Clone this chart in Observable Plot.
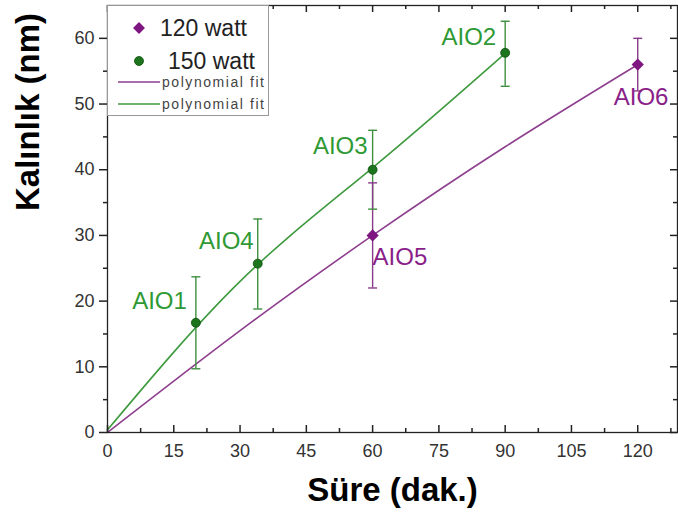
<!DOCTYPE html>
<html><head><meta charset="utf-8">
<script src="https://cdn.jsdelivr.net/npm/d3@7"></script>
<script src="https://cdn.jsdelivr.net/npm/@observablehq/plot@0.6"></script>
<style>
body{margin:0;background:#fff;font-family:"Liberation Sans",Arial,sans-serif}
#wrap{position:relative;width:678px;height:528px;overflow:hidden}
#legend{position:absolute;left:107px;top:5px}
</style></head><body><div id="wrap"></div>
<script>
// ---- data ----
const samples   = ["AIO1","AIO4","AIO3","AIO2","AIO5","AIO6"];
const power     = ["150 watt","150 watt","150 watt","150 watt","120 watt","120 watt"];
const time      = [20, 34, 60, 90, 60, 120];
const thickness = [16.7, 25.7, 40, 57.8, 30, 56];
const errLow    = [9.7, 18.8, 34, 52.7, 22, 52];
const errHigh   = [23.7, 32.5, 46, 62.6, 38, 60];

const fit150X = [0, 30, 60, 90];
const fit150Y = [0.4, 23, 40.3, 57.7];
const fit120X = [0, 30, 60, 90, 120];
const fit120Y = [0, 15.5, 30, 43.5, 56];

const xTicks = [0, 15, 30, 45, 60, 75, 90, 105, 120];
const xMinor = [7.5, 22.5, 37.5, 52.5, 67.5, 82.5, 97.5, 112.5, 127.5];
const yTicks = [0, 10, 20, 30, 40, 50, 60];
const yMinor = [5, 15, 25, 35, 45, 55];
const legendLabels = ["120 watt", "150 watt", "polynomial fit", "polynomial fit"];
const xTitle = "Süre (dak.)";
const yTitle = "Kalınlık (nm)";

// ---- styles ----
const C = {
  "120 watt": {marker: "#7e1580", line: "#8e3f8e", bar: "#8a3a8a", label: "#8a1f8a"},
  "150 watt": {marker: "#1c741c", line: "#3f9a3f", bar: "#3f8f3f", label: "#2f9a35"}
};
const labelOffset = {
  AIO1: {dx: -9, dy: -21, anchor: "end"},
  AIO4: {dx: -4, dy: -22, anchor: "end"},
  AIO3: {dx: -5, dy: -23, anchor: "end"},
  AIO2: {dx: -9, dy: -15, anchor: "end"},
  AIO5: {dx: 0, dy: 22, anchor: "start"},
  AIO6: {dx: -24, dy: 33, anchor: "start"}
};

const pts = samples.map((s, i) => ({s, p: power[i], x: time[i], y: thickness[i], lo: errLow[i], hi: errHigh[i]}));
const f150 = fit150X.map((x, i) => ({x, y: fit150Y[i]}));
const f120 = fit120X.map((x, i) => ({x, y: fit120Y[i]}));

const cap = {draw(ctx) { ctx.moveTo(-4.5, 0); ctx.lineTo(4.5, 0); }};

const frameH = 528 - 5 - 96;
const frameW = 678 - 107 - 1;

const marks = [
  Plot.line(f120, {x: "x", y: "y", stroke: C["120 watt"].line, strokeWidth: 1.6, curve: "natural"}),
  Plot.line(f150, {x: "x", y: "y", stroke: C["150 watt"].line, strokeWidth: 1.6, curve: "natural"}),
  Plot.ruleX(pts, {x: "x", y1: "lo", y2: "hi", stroke: d => C[d.p].bar, strokeWidth: 1.4}),
  Plot.dot(pts, {x: "x", y: "lo", symbol: cap, r: 4, stroke: d => C[d.p].bar, fill: "none", strokeWidth: 1.4}),
  Plot.dot(pts, {x: "x", y: "hi", symbol: cap, r: 4, stroke: d => C[d.p].bar, fill: "none", strokeWidth: 1.4}),
  Plot.dot(pts.filter(d => d.p === "150 watt"), {x: "x", y: "y", r: 4.5, fill: C["150 watt"].marker, stroke: "#0e4f0e", strokeWidth: 0.8}),
  Plot.dot(pts.filter(d => d.p === "120 watt"), {x: "x", y: "y", symbol: "diamond2", r: 5.5, fill: C["120 watt"].marker}),
  ...samples.map(s => {
    const o = labelOffset[s];
    return Plot.text(pts.filter(d => d.s === s), {x: "x", y: "y", text: "s", dx: o.dx, dy: o.dy, textAnchor: o.anchor,
      fill: d => C[d.p].label, fontSize: 24});
  }),
  // frame and ticks
  Plot.frame({stroke: "#222", strokeWidth: 1.3}),
  Plot.tickX(xTicks, {x: d => d, insetTop: frameH - 7, stroke: "#222", strokeWidth: 1.5}),
  Plot.tickX(xMinor, {x: d => d, insetTop: frameH - 4, stroke: "#222", strokeWidth: 1.5}),
  Plot.tickX(xTicks, {x: d => d, insetBottom: frameH - 7, stroke: "#222", strokeWidth: 1.5}),
  Plot.tickX(xMinor, {x: d => d, insetBottom: frameH - 4, stroke: "#222", strokeWidth: 1.5}),
  Plot.tickY(yTicks, {y: d => d, insetLeft: frameW - 7, stroke: "#222", strokeWidth: 1.5}),
  Plot.tickY(yMinor, {y: d => d, insetLeft: frameW - 4, stroke: "#222", strokeWidth: 1.5}),
  Plot.axisY(yTicks, {tickSize: 8, tickPadding: 5, fontSize: 18, color: "#333", stroke: "#222", strokeWidth: 1.5, label: null}),
  Plot.axisY(yMinor, {tickSize: 4, fill: "none", stroke: "#222", strokeWidth: 1.5, label: null}),
  Plot.axisX(xTicks, {tickSize: 0, tickPadding: 12, fontSize: 18, color: "#333", label: null}),
  Plot.text([yTitle], {frameAnchor: "left", rotate: -90, dx: -79, dy: -8, fontSize: 33, fontWeight: "bold", fill: "#000"}),
  Plot.text([xTitle], {frameAnchor: "bottom", dy: 68, fontSize: 33, fontWeight: "bold", fill: "#000"})
];

const chart = Plot.plot({
  width: 678, height: 528,
  marginLeft: 107, marginRight: 1, marginTop: 5, marginBottom: 96,
  x: {domain: [0, 129], axis: null},
  y: {domain: [0, 65], axis: null},
  style: {fontFamily: "'Liberation Sans', Arial, sans-serif", background: "white", overflow: "visible"},
  marks
});
const wrap = document.getElementById("wrap");
wrap.appendChild(chart);

// legend
const lg = d3.select(wrap).append("svg").attr("id", "legend").attr("width", 162).attr("height", 111)
  .style("font-family", "'Liberation Sans', Arial, sans-serif");
lg.append("rect").attr("x", 0.5).attr("y", 0.5).attr("width", 161).attr("height", 110)
  .attr("fill", "white").attr("stroke", "#999").attr("stroke-width", 1);
const symD = d3.symbol(d3.symbolDiamond2, 90)();
lg.append("path").attr("d", symD).attr("transform", "translate(32,23)").attr("fill", C["120 watt"].marker);
lg.append("text").attr("x", 53).attr("y", 23).attr("dy", "0.35em").attr("font-size", 23).attr("fill", "#222").text(legendLabels[0]);
lg.append("circle").attr("cx", 32).attr("cy", 56).attr("r", 4.5).attr("fill", C["150 watt"].marker).attr("stroke", "#0e4f0e").attr("stroke-width", 0.8);
lg.append("text").attr("x", 61).attr("y", 56).attr("dy", "0.35em").attr("font-size", 23).attr("fill", "#222").text(legendLabels[1]);
lg.append("line").attr("x1", 11).attr("x2", 53).attr("y1", 77).attr("y2", 77).attr("stroke", C["120 watt"].line).attr("stroke-width", 1.6);
lg.append("text").attr("x", 55).attr("y", 77).attr("dy", "0.35em").attr("font-size", 14).attr("fill", "#444").attr("textLength", 102).text(legendLabels[2]);
lg.append("line").attr("x1", 11).attr("x2", 53).attr("y1", 99).attr("y2", 99).attr("stroke", C["150 watt"].line).attr("stroke-width", 1.6);
lg.append("text").attr("x", 55).attr("y", 99).attr("dy", "0.35em").attr("font-size", 14).attr("fill", "#444").attr("textLength", 102).text(legendLabels[3]);
</script></body></html>
